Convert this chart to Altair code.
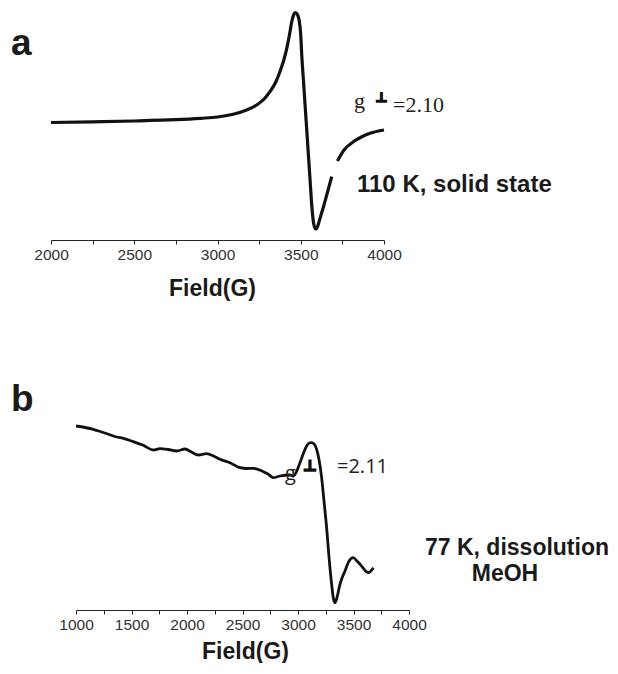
import altair as alt
import pandas as pd

# ---- panel a : 110 K, solid state (two drawn pieces of one trace) ----
a_field_1 = [2000, 2250, 2500, 2750, 2900, 3000, 3100, 3175, 3235, 3280, 3315, 3350,
             3375, 3400, 3416, 3432, 3446, 3458, 3467, 3478, 3490, 3500, 3506, 3516,
             3526, 3536, 3546, 3556, 3566, 3578, 3590, 3602, 3616, 3636, 3656, 3686]
a_signal_1 = [117.5, 118.2, 119.0, 120.3, 121.7, 123.0, 126.0, 130.0, 135.0, 141.0, 148.3, 158.0,
              168.3, 181.0, 191.7, 205.0, 218.3, 225.5, 227.5, 226.0, 220.0, 205.0, 185.0, 160.0,
              135.0, 110.0, 85.0, 60.0, 35.0, 16.0, 11.0, 14.0, 21.7, 33.0, 45.0, 63.3]
a_field_2 = [3720, 3760, 3816, 3870, 3916, 4000]
a_signal_2 = [79.0, 90.0, 98.3, 103.5, 106.7, 110.0]
a_ticks = [2000, 2250, 2500, 2750, 3000, 3250, 3500, 3750, 4000]

# ---- panel b : 77 K, dissolution MeOH ----
b_field = [1000, 1156, 1230, 1300, 1366, 1426, 1500, 1600, 1697, 1757, 1830, 1907, 1982,
           2040, 2102, 2177, 2240, 2297, 2387, 2477, 2540, 2598, 2688, 2730, 2778, 2838,
           2928, 2958, 3018, 3050, 3078, 3100, 3123, 3145, 3168, 3190, 3213, 3235, 3258,
           3280, 3303, 3318, 3333, 3350, 3378, 3400, 3423, 3460, 3498, 3530, 3559, 3634, 3679]
b_signal = [184.0, 180.7, 178.0, 175.5, 173.0, 171.7, 169.0, 165.0, 160.0, 161.3, 160.5, 159.0, 161.0,
            158.0, 155.0, 156.3, 154.0, 150.7, 147.3, 142.3, 141.5, 141.7, 138.3, 136.0, 132.3, 134.0,
            135.0, 134.0, 147.3, 157.0, 164.0, 167.0, 167.3, 166.0, 160.7, 150.0, 132.3, 108.0, 82.3,
            52.0, 25.7, 12.0, 7.3, 12.0, 25.7, 33.0, 39.0, 49.0, 52.3, 49.0, 45.7, 37.3, 42.3]
b_ticks = [1000, 1250, 1500, 1750, 2000, 2250, 2500, 2750, 3000, 3250, 3500, 3750, 4000]

panel_a_letter = ["a"]
panel_b_letter = ["b"]
a_g = ["g"]
a_perp = ["⊥"]
a_value = ["=2.10"]
a_cond = ["110 K, solid state"]
b_g = ["g"]
b_perp = ["⊥"]
b_value = ["=2.11"]
b_cond_1 = ["77 K, dissolution"]
b_cond_2 = ["MeOH"]
x_title = "Field(G)"

SANS = "Liberation Sans"
SERIF = "Liberation Serif"
INK = "#1a1a1a"

df_a = pd.concat([
    pd.DataFrame({"field": a_field_1, "signal": a_signal_1, "seg": "1"}),
    pd.DataFrame({"field": a_field_2, "signal": a_signal_2, "seg": "2"}),
])
df_b = pd.DataFrame({"field": b_field, "signal": b_signal})


def x_axis(ticks, tx, ty):
    return alt.Axis(values=ticks, format="d",
                    labelExpr="datum.value % 500 == 0 ? datum.label : ''",
                    grid=False, tickSize=4, tickColor="#222", tickWidth=1,
                    domainColor="#222", domainWidth=1.2,
                    labelFont=SANS, labelFontSize=15.5, labelColor="#333",
                    labelPadding=3, labelFlush=False, labelOverlap=False,
                    title=x_title, titleFont=SANS, titleFontSize=23,
                    titleFontWeight="bold", titleColor=INK,
                    titleX=tx, titleY=ty, titleAlign="center",
                    titleBaseline="alphabetic")


def label(texts, x, y, font=SANS, size=22, weight="normal", align="left", color=INK, stroke=0):
    kw = dict(font=font, fontSize=size, fontWeight=weight, align=align,
              baseline="alphabetic", color=color)
    if stroke:
        kw.update(stroke=color, strokeWidth=stroke)
    return alt.Chart(pd.DataFrame({"t": texts})).mark_text(**kw).encode(
        x=alt.value(x), y=alt.value(y), text="t:N")


line_a = alt.Chart(df_a).mark_line(interpolate="monotone", strokeWidth=3.2, color="#111",
                                   strokeJoin="round").encode(
    x=alt.X("field:Q", scale=alt.Scale(domain=[2000, 4000], nice=False, zero=False),
            axis=x_axis(a_ticks, 161, 55)),
    y=alt.Y("signal:Q", scale=alt.Scale(domain=[0, 230]), axis=None),
    detail="seg:N",
)

panel_a = alt.layer(
    line_a,
    label(panel_a_letter, -40, 45, size=37, weight="bold"),
    label(a_g, 303, 98, font=SERIF, size=22, color="#222"),
    label(a_perp, 330.5, 92, font="DejaVu Sans", size=13, weight="bold", align="center",
          color="#111", stroke=1.6),
    label(a_value, 342, 102, font=SERIF, size=22, color="#222"),
    label(a_cond, 306, 182, size=24, weight="bold"),
).properties(width=333, height=230)

line_b = alt.Chart(df_b).mark_line(interpolate="monotone", strokeWidth=2.8, color="#111",
                                   strokeJoin="round").encode(
    x=alt.X("field:Q", scale=alt.Scale(domain=[1000, 4000], range=[25, 358], nice=False, zero=False),
            axis=x_axis(b_ticks, 194, 48)),
    y=alt.Y("signal:Q", scale=alt.Scale(domain=[0, 231]), axis=None),
)

panel_b = alt.layer(
    line_b,
    label(panel_b_letter, -40, 32, size=37, weight="bold"),
    label(b_g, 234, 101, font="Open Sans", size=20, color="#222"),
    label(b_perp, 259, 92, font="DejaVu Sans", size=15, weight="bold", align="center",
          color="#111", stroke=1.6),
    label(b_value, 286, 94, font="Open Sans", size=20, color="#222"),
    label(b_cond_1, 374, 176, size=23, weight="bold"),
    label(b_cond_2, 454, 202, size=23, weight="bold", align="center"),
).properties(width=358, height=231)

chart = alt.vconcat(panel_a, panel_b, spacing=79).properties(
    padding={"left": 3, "top": 2, "right": 0, "bottom": 0}
).configure_view(stroke=None)

chart.save("out.html", embed_options={"renderer": "svg", "actions": False})
